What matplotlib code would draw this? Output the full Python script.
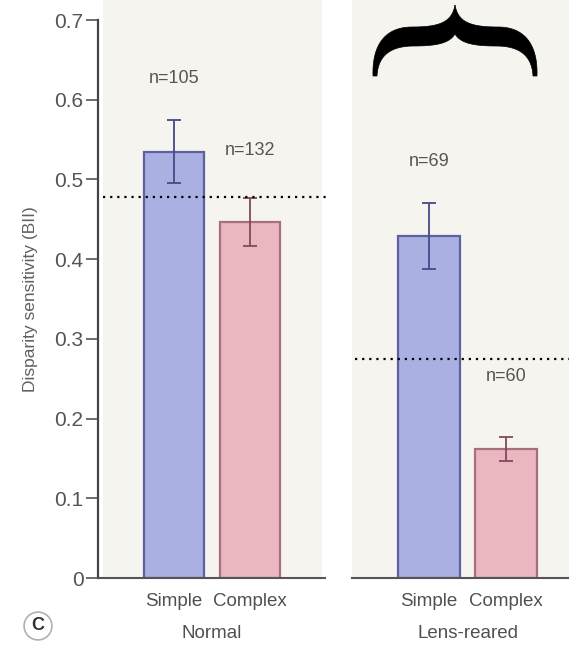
import numpy as np
import matplotlib
matplotlib.use('Agg')
import matplotlib.pyplot as plt
from matplotlib.patches import Rectangle, Polygon

# disparity sensitivity (BII) per rearing condition, simple vs complex cells
conditions = ['Normal', 'Lens-reared']
cell_types = ['Simple', 'Complex']
normal_mean = [0.535, 0.447]
normal_err = [0.040, 0.030]
lens_mean = [0.429, 0.162]
lens_err = [0.041, 0.015]
normal_n = [105, 132]
lens_n = [69, 60]
normal_ref = 0.478
lens_ref = 0.275
yticks = [0, 0.1, 0.2, 0.3, 0.4, 0.5, 0.6, 0.7]

W, H = 569, 646
fig = plt.figure(figsize=(W / 100, H / 100), dpi=100)
fig.patch.set_facecolor('white')

plt.rcParams['font.family'] = ['Liberation Sans', 'DejaVu Sans']

fill_c = ['#abb0e3', '#eab7c1']
edge_c = ['#5d61a0', '#a86e7c']
err_c = ['#464a86', '#84485a']
bg = '#f6f4ee'


def px(x, y):
    # pixel position (origin top left) -> figure fraction
    return x / W, 1 - y / H


# cream panel backgrounds behind each group
for x0, x1 in [(103, 322), (352, 569)]:
    fig.add_artist(Rectangle(px(x0, 578), (x1 - x0) / W, 578 / H,
                             transform=fig.transFigure, facecolor=bg,
                             edgecolor='none', zorder=0))

ax1 = fig.add_axes([98 / W, (H - 578) / H, 227 / W, 558 / H])
ax2 = fig.add_axes([352 / W, (H - 578) / H, 217 / W, 558 / H])

panels = [
    (ax1, normal_mean, normal_err, normal_n, normal_ref, (-1.0, 1.987),
     [0.626, 0.536], (-0.93, 2.01)),
    (ax2, lens_mean, lens_err, lens_n, lens_ref, (-1.0, 1.818),
     [0.522, 0.253], (-0.96, 1.818)),
]

for i, (ax, mean, err, counts, ref, xl, ny, refx) in enumerate(panels):
    ax.set_facecolor('none')
    x = np.arange(len(cell_types))
    ax.bar(x, mean, width=0.8, color=fill_c, edgecolor=edge_c, linewidth=1.6,
           zorder=2)
    for k in range(len(x)):
        ax.errorbar(x[k], mean[k], yerr=err[k], fmt='none', ecolor=err_c[k],
                    elinewidth=1.3, capsize=5, capthick=1.3, zorder=3)
        ax.text(x[k], ny[k], f'n={counts[k]}', ha='center', va='center',
                fontsize=13, color='#555555')
    ax.hlines(ref, refx[0], refx[1], colors='black', linewidth=1.6,
              linestyles=(0, (1, 2.2)), clip_on=False, zorder=4)
    ax.set_xlim(*xl)
    ax.set_ylim(0, 0.7)
    ax.set_xticks(x, cell_types)
    ax.tick_params(axis='x', length=0, pad=11, labelsize=13.5,
                   labelcolor='#505050')
    ax.annotate(conditions[i], xy=(0.5, 0), xycoords=('data', 'axes fraction'),
                xytext=(0, -40), textcoords='offset points', ha='center',
                va='center', fontsize=13.5, color='#505050')
    for s in ['top', 'right']:
        ax.spines[s].set_visible(False)
    ax.spines['bottom'].set_color('#555555')
    ax.spines['bottom'].set_linewidth(1.5)

ax1.spines['left'].set_color('#444444')
ax1.spines['left'].set_linewidth(1.6)
ax1.set_yticks(yticks, ['0' if t == 0 else f'{t:.1f}' for t in yticks])
ax1.tick_params(axis='y', length=9, width=1.2, color='#555555', pad=1.5,
                labelsize=15, labelcolor='#555555')
ax1.set_ylabel('Disparity sensitivity (BII)', fontsize=12.5, color='#606060',
               labelpad=12)

ax2.spines['left'].set_visible(False)
ax2.tick_params(axis='y', left=False, labelleft=False)


def bezier(p0, p1, p2, p3, n=30):
    t = np.linspace(0, 1, n)[:, None]
    p0, p1, p2, p3 = map(np.asarray, (p0, p1, p2, p3))
    return ((1 - t) ** 3 * p0 + 3 * (1 - t) ** 2 * t * p1
            + 3 * (1 - t) * t ** 2 * p2 + t ** 3 * p3)


# heavy curly brace above the lens-reared group
cx = 455
outer = np.vstack([bezier((373, 76), (372, 45), (385, 27), (412, 27)),
                   bezier((412, 27), (440, 27), (452, 22), (cx, 5))])
inner = np.vstack([bezier((cx, 34), (450, 42), (440, 46), (414, 46)),
                   bezier((414, 46), (390, 46), (378, 56), (377, 76))])
mirror = lambda p: np.column_stack([2 * cx - p[:, 0], p[:, 1]])
outline = np.vstack([outer, mirror(outer)[::-1], mirror(inner)[::-1], inner])
outline = np.column_stack([outline[:, 0] / W, 1 - outline[:, 1] / H])
fig.add_artist(Polygon(outline, closed=True, transform=fig.transFigure,
                       facecolor='black', edgecolor='black', linewidth=0.5,
                       zorder=5))

# panel letter
fig.text(*px(38, 626), 'C', ha='center', va='center', fontsize=13,
         fontweight='bold', color='#333333',
         bbox=dict(boxstyle='circle,pad=0.3', facecolor='white',
                   edgecolor='#b0b0b0', linewidth=1.2))

fig.savefig('out.png', dpi=100)
